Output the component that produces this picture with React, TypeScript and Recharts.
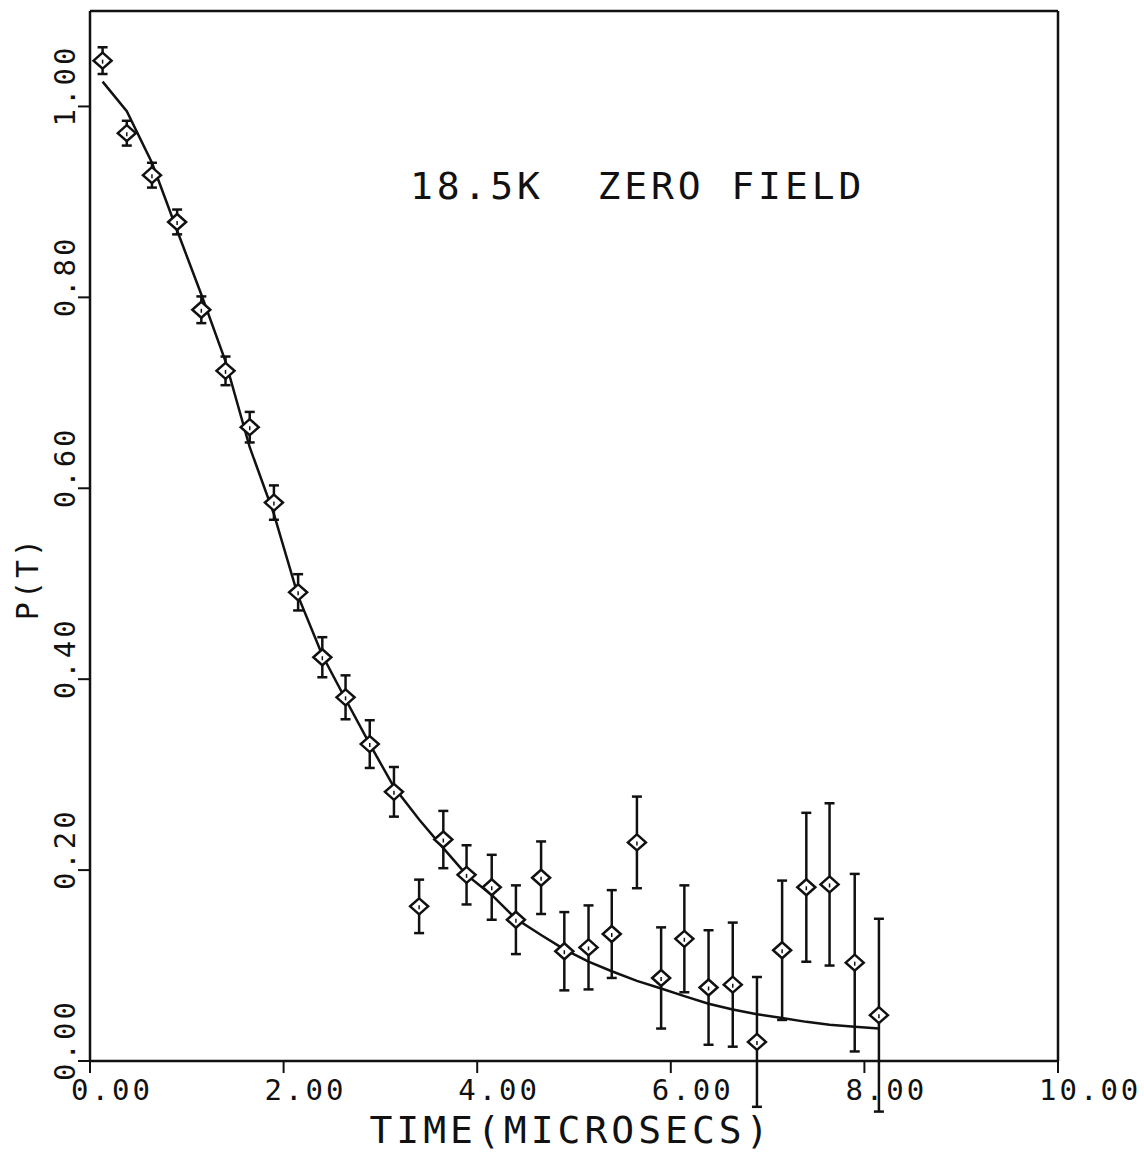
import { ComposedChart, Line, Scatter, ErrorBar, XAxis, YAxis, ReferenceLine, Label } from "recharts";

// muon spin polarization vs time
const TIME = [0.13, 0.38, 0.64, 0.90, 1.15, 1.40, 1.65, 1.90, 2.15, 2.40, 2.64, 2.89, 3.14, 3.40, 3.65, 3.89, 4.15,
  4.40, 4.66, 4.90, 5.15, 5.39, 5.65, 5.90, 6.14, 6.39, 6.64, 6.89, 7.15, 7.40, 7.64, 7.90, 8.15];
const POLARIZATION = [1.048, 0.972, 0.928, 0.879, 0.787, 0.723, 0.664, 0.585, 0.491, 0.423, 0.381, 0.332, 0.282, 0.162,
  0.232, 0.195, 0.182, 0.148, 0.192, 0.115, 0.119, 0.133, 0.229, 0.087, 0.128, 0.077, 0.080, 0.020, 0.116, 0.182,
  0.185, 0.103, 0.048];
const ERRORS = [0.014, 0.013, 0.013, 0.013, 0.014, 0.015, 0.016, 0.018, 0.019, 0.021, 0.023, 0.025, 0.026, 0.028,
  0.030, 0.031, 0.034, 0.036, 0.038, 0.041, 0.044, 0.046, 0.048, 0.053, 0.056, 0.060, 0.065, 0.068, 0.073, 0.078,
  0.085, 0.093, 0.101];
const FIT = [1.026, 0.995, 0.941, 0.870, 0.803, 0.733, 0.643, 0.573, 0.487, 0.425, 0.379, 0.332, 0.287, 0.253, 0.223,
  0.195, 0.174, 0.149, 0.132, 0.117, 0.104, 0.094, 0.084, 0.076, 0.068, 0.060, 0.054, 0.049, 0.045, 0.041, 0.038,
  0.036, 0.034];
const X_TICKS = [0, 2, 4, 6, 8, 10];
const Y_TICKS = [0, 0.2, 0.4, 0.6, 0.8, 1.0];

const data = TIME.map((t, i) => ({ t, v: POLARIZATION[i], err: ERRORS[i], fit: FIT[i] }));

const FONT = "'DejaVu Sans Mono', monospace";
const INK = "#111";

function XTick({ x, y, payload }: any) {
  return (
    <text x={x - 19} y={y + 25} fontFamily={FONT} fontSize={29} letterSpacing={3} fill={INK} textAnchor="start">
      {Number(payload.value).toFixed(2)}
    </text>
  );
}

function YTick({ x, y, payload }: any) {
  const tx = x - 1, ty = y + 20;
  return (
    <text x={tx} y={ty} transform={`rotate(-90, ${tx}, ${ty})`} fontFamily={FONT} fontSize={29} letterSpacing={3}
      fill={INK} textAnchor="start">
      {Number(payload.value).toFixed(2)}
    </text>
  );
}

function Diamond({ cx, cy }: any) {
  if (cx == null || cy == null) return null;
  return (
    <g>
      <path d={`M${cx},${cy - 8} L${cx + 9},${cy} L${cx},${cy + 8} L${cx - 9},${cy} Z`} fill="#fff" stroke={INK} strokeWidth={2.5} />
      <line x1={cx} y1={cy - 1} x2={cx} y2={cy + 3} stroke={INK} strokeWidth={1.5} />
    </g>
  );
}

const xTitle = ({ viewBox }: any) => (
  <text x={viewBox.x + viewBox.width / 2 - 3} y={viewBox.y + 82} fontFamily={FONT} fontSize={38} letterSpacing={4}
    fill={INK} textAnchor="middle">TIME(MICROSECS)</text>
);

const yTitle = ({ viewBox }: any) => {
  const tx = viewBox.x + 38, ty = viewBox.y + viewBox.height / 2 + 42;
  return (
    <text x={tx} y={ty} transform={`rotate(-90, ${tx}, ${ty})`} fontFamily={FONT} fontSize={30} letterSpacing={3}
      fill={INK} textAnchor="middle">P(T)</text>
  );
};

const annotation = ({ viewBox }: any) => (
  <text x={viewBox.x + 320} y={viewBox.y + 188} fontFamily={FONT} fontSize={38} letterSpacing={3.9} fill={INK}
    textAnchor="start" xmlSpace="preserve">18.5K  ZERO FIELD</text>
);

export default function App() {
  return (
    <div style={{ position: "absolute", left: 0, top: 0, background: "#fff" }}>
      <ComposedChart width={1144} height={1152} data={data} margin={{ top: 11, right: 86, bottom: 0, left: 0 }}>
        <XAxis type="number" dataKey="t" domain={[0, 10]} ticks={X_TICKS} tick={<XTick />} tickSize={12}
          height={91} stroke={INK} strokeWidth={2.5} tickLine={{ stroke: INK, strokeWidth: 2 }} interval={0}>
          <Label content={xTitle} />
        </XAxis>
        <YAxis type="number" domain={[0, 1.1]} allowDataOverflow ticks={Y_TICKS} tick={<YTick />} tickSize={12}
          width={90} stroke={INK} strokeWidth={2.5} tickLine={{ stroke: INK, strokeWidth: 2 }} interval={0}>
          <Label content={yTitle} />
        </YAxis>
        <ReferenceLine y={1.1} stroke={INK} strokeWidth={2.5} label={annotation} />
        <ReferenceLine x={10} stroke={INK} strokeWidth={2.5} />
        <Line type="linear" dataKey="fit" stroke={INK} strokeWidth={2.5} dot={false} isAnimationActive={false} />
        <Scatter dataKey="v" shape={<Diamond />} isAnimationActive={false}>
          <ErrorBar dataKey="err" direction="y" width={5} stroke={INK} strokeWidth={2.5} />
        </Scatter>
      </ComposedChart>
    </div>
  );
}
